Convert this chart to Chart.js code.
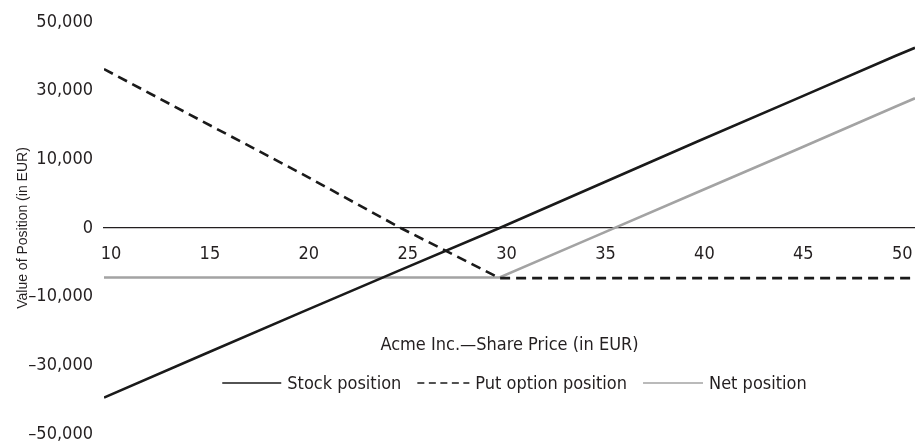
<!DOCTYPE html>
<html>
<head>
<meta charset="utf-8">
<script src="https://cdn.jsdelivr.net/npm/chart.js@4.4.1/dist/chart.umd.min.js"></script>
<style>
  html, body { margin: 0; padding: 0; background: #ffffff; }
  #wrap { width: 915px; height: 445px; }
</style>
</head>
<body>
<div id="wrap"><canvas id="c" width="915" height="445"></canvas></div>
<script>
// ---- data ----
const PRICES = [10, 15, 20, 25, 30, 35, 40, 45, 50, 51];
const STOCK_POSITION = [-39400, -26900, -14500, -6100, 0, 6300, 15200, 27600, 40100, 42500];
const PUT_OPTION_POSITION = [36300, 21000, 7900, 0, -7300, -7300, -7300, -7300, -7300, -7300];
const NET_POSITION = [-7200, -7200, -7200, -7200, -7200, -1000, 5200, 12800, 25300, 27800];
const X_TICKS = [10, 15, 20, 25, 30, 35, 40, 45, 50];
const Y_TICKS = [-50000, -30000, -10000, 0, 10000, 30000, 50000];
const Y_TICK_LABELS = ['\u201350,000', '\u201330,000', '\u201310,000', '0', '10,000', '30,000', '50,000'];
const SERIES_NAMES = ['Stock position', 'Put option position', 'Net position'];
const X_TITLE = 'Acme Inc.\u2014Share Price (in EUR)';
const Y_TITLE = 'Value of Position (in EUR)';

const TEXT = '#231f20';
const NARROW = "'Liberation Sans Narrow', 'DejaVu Sans Condensed', 'Liberation Sans', sans-serif";
const FS = 18;

// Value axis whose labelled ticks are evenly spaced (as in the reference)
class SteppedLinearScale extends Chart.LinearScale {
  determineDataLimits() {
    this.min = Y_TICKS[0];
    this.max = Y_TICKS[Y_TICKS.length - 1];
  }
  buildTicks() {
    return Y_TICKS.map(v => ({ value: v }));
  }
  _segment(value) {
    const t = Y_TICKS, n = t.length - 1;
    let i = 0;
    if (value >= t[n]) i = n - 1;
    else if (value > t[0]) { while (i < n - 1 && value > t[i + 1]) i++; }
    return i;
  }
  getPixelForValue(value) {
    const t = Y_TICKS, n = t.length - 1;
    const i = this._segment(value);
    const dec = (i + (value - t[i]) / (t[i + 1] - t[i])) / n;
    return this.getPixelForDecimal(dec);
  }
  getValueForPixel(pixel) {
    const t = Y_TICKS, n = t.length - 1;
    const d = this.getDecimalForPixel(pixel) * n;
    const i = Math.max(0, Math.min(n - 1, Math.floor(d)));
    return t[i] + (d - i) * (t[i + 1] - t[i]);
  }
}
SteppedLinearScale.id = 'steppedLinear';
SteppedLinearScale.defaults = Chart.LinearScale.defaults;
Chart.register(SteppedLinearScale);

// Legend drawn as one centred row inside the plot, like the reference
const rowLegend = {
  id: 'rowLegend',
  afterDraw(chart, args, opts) {
    const ctx = chart.ctx;
    ctx.save();
    ctx.font = opts.font;
    ctx.textBaseline = 'middle';
    ctx.textAlign = 'left';
    const items = chart.data.datasets.map((ds, i) => ({
      text: ds.label,
      color: ds.borderColor,
      dash: opts.dashes[i],
      sample: opts.sampleWidths[i],
      textW: ctx.measureText(ds.label).width
    }));
    let total = 0;
    items.forEach((it, i) => { total += it.sample + opts.gap + it.textW + (i ? opts.itemGap : 0); });
    const ca = chart.chartArea;
    let x = (ca.left + ca.right) / 2 + opts.shiftX - total / 2;
    const y = opts.y;
    items.forEach(it => {
      ctx.beginPath();
      ctx.setLineDash(it.dash);
      ctx.strokeStyle = it.color;
      ctx.lineWidth = opts.lineWidth;
      ctx.moveTo(x, y);
      ctx.lineTo(x + it.sample, y);
      ctx.stroke();
      ctx.setLineDash([]);
      x += it.sample + opts.gap;
      ctx.fillStyle = TEXT;
      ctx.fillText(it.text, x, y + 1);
      x += it.textW + opts.itemGap;
    });
    ctx.restore();
  }
};

const toPoints = arr => PRICES.map((p, i) => ({ x: p, y: arr[i] }));

new Chart(document.getElementById('c'), {
  type: 'line',
  data: {
    datasets: [
      { label: SERIES_NAMES[0], data: toPoints(STOCK_POSITION), borderColor: '#1a1a1a', borderWidth: 2.6, pointRadius: 0, tension: 0 },
      { label: SERIES_NAMES[1], data: toPoints(PUT_OPTION_POSITION), borderColor: '#1a1a1a', borderWidth: 2.6, borderDash: [10, 6], pointRadius: 0, tension: 0 },
      { label: SERIES_NAMES[2], data: toPoints(NET_POSITION), borderColor: '#a3a3a3', borderWidth: 2.6, pointRadius: 0, tension: 0 }
    ]
  },
  options: {
    responsive: false,
    animation: false,
    devicePixelRatio: 1,
    layout: { padding: { top: 22, bottom: 11, left: 0, right: 0 } },
    plugins: {
      legend: { display: false },
      tooltip: { enabled: false },
      rowLegend: {
        font: FS + 'px ' + NARROW,
        y: 383,
        shiftX: 5,
        gap: 6,
        itemGap: 16,
        lineWidth: 1.3,
        sampleWidths: [59, 52, 60],
        dashes: [[], [7, 4.5], []]
      }
    },
    scales: {
      x: {
        type: 'linear',
        position: { y: 0 },
        min: 10,
        max: 51,
        afterBuildTicks: s => { s.ticks = X_TICKS.map(v => ({ value: v })); },
        afterFit: s => { s.height = 0; s.paddingLeft = 0; s.paddingRight = 0; },
        grid: { display: false, drawTicks: false },
        border: { display: true, color: TEXT, width: 1.3 },
        ticks: {
          autoSkip: false, maxRotation: 0, padding: 16, labelOffset: 7,
          color: TEXT, font: { family: NARROW, size: FS }
        },
        title: {
          display: true, text: X_TITLE, color: TEXT,
          font: { family: NARROW, size: FS },
          padding: { top: 0, bottom: -128 }
        }
      },
      y: {
        type: 'steppedLinear',
        afterFit: s => { s.width = 104; s.paddingTop = 0; s.paddingBottom = 0; },
        grid: { display: false, drawTicks: false },
        border: { display: false },
        ticks: {
          padding: 11, color: TEXT, font: { family: NARROW, size: FS },
          callback: v => Y_TICK_LABELS[Y_TICKS.indexOf(v)]
        },
        title: {
          display: true, text: Y_TITLE, color: TEXT,
          font: { family: "'Liberation Sans', Arial, sans-serif", size: 14 },
          padding: { top: 14.6, bottom: 0 }
        }
      }
    }
  },
  plugins: [rowLegend]
});
</script>
</body>
</html>
